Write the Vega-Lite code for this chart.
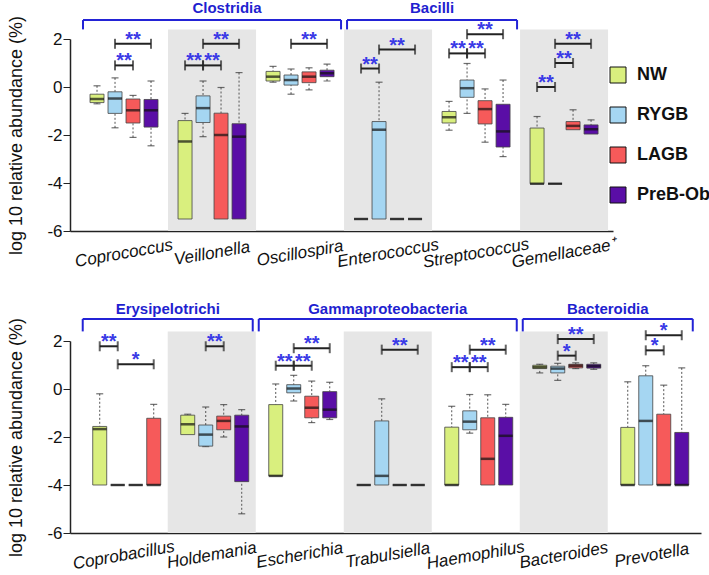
{
  "$schema": "https://vega.github.io/schema/vega-lite/v6.json",
  "padding": {"left": 7, "top": 1, "right": 0, "bottom": 0},
  "spacing": 30,
  "config": {"view": {"stroke": null}, "font": "Liberation Sans"},
  "datasets": {
    "shade1": [{"g": "Veillonella"}, {"g": "Enterococcus"}, {"g": "Gemellaceae⁺"}],
    "shade2": [{"g": "Holdemania"}, {"g": "Trabulsiella"}, {"g": "Bacteroides"}],
    "cls1": [{"c": "Clostridia", "g1": "Coprococcus", "g2": "Oscillospira"}, {"c": "Bacilli", "g1": "Enterococcus", "g2": "Streptococcus"}],
    "cls2": [{"c": "Erysipelotrichi", "g1": "Coprobacillus", "g2": "Holdemania"}, {"c": "Gammaproteobacteria", "g1": "Escherichia", "g2": "Haemophilus"}, {"c": "Bacteroidia", "g1": "Bacteroides", "g2": "Prevotella"}],
    "lab1": [{"c": "Clostridia", "g": "Veillonella", "k": "mid"}, {"c": "Bacilli", "g": "Enterococcus", "k": "edge"}],
    "lab2": [{"c": "Gammaproteobacteria", "g": "Trabulsiella", "k": "mid"}, {"c": "Erysipelotrichi", "g": "Coprobacillus", "k": "edge"}, {"c": "Bacteroidia", "g": "Bacteroides", "k": "edge"}],
    "box1": [
      {"g": "Coprococcus", "pos": "NW", "fill": "NW", "lo": -0.7, "q1": -0.65, "med": -0.5, "q3": -0.3, "hi": 0.05},
      {"g": "Coprococcus", "pos": "RYGB", "fill": "RYGB", "lo": -1.7, "q1": -1.1, "med": -0.48, "q3": -0.2, "hi": 0.38},
      {"g": "Coprococcus", "pos": "LAGB", "fill": "LAGB", "lo": -2.1, "q1": -1.5, "med": -0.97, "q3": -0.5, "hi": -0.35},
      {"g": "Coprococcus", "pos": "PreB-Ob", "fill": "PreB-Ob", "lo": -2.45, "q1": -1.67, "med": -0.97, "q3": -0.52, "hi": 0.25},
      {"g": "Veillonella", "pos": "NW", "fill": "NW", "q1": -5.5, "med": -2.27, "q3": -1.4, "hi": -1.1},
      {"g": "Veillonella", "pos": "RYGB", "fill": "RYGB", "lo": -2.07, "q1": -1.48, "med": -0.88, "q3": -0.37, "hi": 0.25},
      {"g": "Veillonella", "pos": "LAGB", "fill": "LAGB", "q1": -5.5, "med": -2.0, "q3": -1.09, "hi": -0.02},
      {"g": "Veillonella", "pos": "PreB-Ob", "fill": "PreB-Ob", "q1": -5.5, "med": -2.07, "q3": -1.53, "hi": 0.6},
      {"g": "Oscillospira", "pos": "NW", "fill": "NW", "lo": 0.2, "q1": 0.25, "med": 0.43, "q3": 0.65, "hi": 0.86},
      {"g": "Oscillospira", "pos": "RYGB", "fill": "RYGB", "lo": -0.3, "q1": 0.08, "med": 0.29, "q3": 0.5, "hi": 0.75},
      {"g": "Oscillospira", "pos": "LAGB", "fill": "LAGB", "lo": -0.12, "q1": 0.18, "med": 0.43, "q3": 0.63, "hi": 0.8},
      {"g": "Oscillospira", "pos": "PreB-Ob", "fill": "PreB-Ob", "lo": 0.25, "q1": 0.43, "med": 0.57, "q3": 0.7, "hi": 0.95},
      {"g": "Enterococcus", "pos": "NW", "fill": "NW", "q1": -5.5, "med": -5.5, "q3": -5.5},
      {"g": "Enterococcus", "pos": "RYGB", "fill": "RYGB", "q1": -5.5, "med": -1.78, "q3": -1.44, "hi": 0.2},
      {"g": "Enterococcus", "pos": "LAGB", "fill": "LAGB", "q1": -5.5, "med": -5.5, "q3": -5.5},
      {"g": "Enterococcus", "pos": "PreB-Ob", "fill": "PreB-Ob", "q1": -5.5, "med": -5.5, "q3": -5.5},
      {"g": "Streptococcus", "pos": "NW", "fill": "NW", "lo": -1.8, "q1": -1.5, "med": -1.26, "q3": -1.02, "hi": -0.6},
      {"g": "Streptococcus", "pos": "RYGB", "fill": "RYGB", "lo": -1.1, "q1": -0.43, "med": -0.05, "q3": 0.29, "hi": 0.98},
      {"g": "Streptococcus", "pos": "LAGB", "fill": "LAGB", "lo": -2.3, "q1": -1.54, "med": -0.92, "q3": -0.57, "hi": -0.08},
      {"g": "Streptococcus", "pos": "PreB-Ob", "fill": "PreB-Ob", "lo": -2.9, "q1": -2.5, "med": -1.85, "q3": -0.72, "hi": 0.29},
      {"g": "Gemellaceae⁺", "pos": "NW", "fill": "NW", "q1": -4.03, "med": -4.03, "q3": -1.71, "hi": -1.23},
      {"g": "Gemellaceae⁺", "pos": "RYGB", "fill": "RYGB", "q1": -4.03, "med": -4.03, "q3": -4.03},
      {"g": "Gemellaceae⁺", "pos": "LAGB", "fill": "LAGB", "q1": -1.78, "med": -1.62, "q3": -1.44, "hi": -0.95},
      {"g": "Gemellaceae⁺", "pos": "PreB-Ob", "fill": "PreB-Ob", "q1": -1.96, "med": -1.76, "q3": -1.58, "hi": -1.37}
    ],
    "box2": [
      {"g": "Coprobacillus", "pos": "NW", "fill": "NW", "q1": -4.0, "med": -1.67, "q3": -1.56, "hi": -0.2},
      {"g": "Coprobacillus", "pos": "RYGB", "fill": "RYGB", "q1": -4.0, "med": -4.0, "q3": -4.0},
      {"g": "Coprobacillus", "pos": "LAGB", "fill": "LAGB", "q1": -4.0, "med": -4.0, "q3": -4.0},
      {"g": "Coprobacillus", "pos": "PreB-Ob", "fill": "LAGB", "q1": -4.0, "med": -4.0, "q3": -1.22, "hi": -0.64},
      {"g": "Holdemania", "pos": "NW", "fill": "NW", "q1": -1.9, "med": -1.47, "q3": -1.09, "hi": -1.05},
      {"g": "Holdemania", "pos": "RYGB", "fill": "RYGB", "lo": -2.4, "q1": -2.38, "med": -1.9, "q3": -1.5, "hi": -0.75},
      {"g": "Holdemania", "pos": "LAGB", "fill": "LAGB", "lo": -2.0, "q1": -1.7, "med": -1.33, "q3": -1.13, "hi": -0.65},
      {"g": "Holdemania", "pos": "PreB-Ob", "fill": "PreB-Ob", "lo": -5.2, "q1": -3.86, "med": -1.56, "q3": -1.09, "hi": -0.86},
      {"g": "Escherichia", "pos": "NW", "fill": "NW", "q1": -3.62, "med": -3.62, "q3": -0.65, "hi": 0.21},
      {"g": "Escherichia", "pos": "RYGB", "fill": "RYGB", "lo": -0.5, "q1": -0.16, "med": 0.02, "q3": 0.18, "hi": 0.57},
      {"g": "Escherichia", "pos": "LAGB", "fill": "LAGB", "lo": -1.4, "q1": -1.2, "med": -0.78, "q3": -0.3, "hi": 0.33},
      {"g": "Escherichia", "pos": "PreB-Ob", "fill": "PreB-Ob", "lo": -1.27, "q1": -1.2, "med": -0.86, "q3": -0.11, "hi": 0.28},
      {"g": "Trabulsiella", "pos": "NW", "fill": "NW", "q1": -4.0, "med": -4.0, "q3": -4.0},
      {"g": "Trabulsiella", "pos": "RYGB", "fill": "RYGB", "q1": -4.0, "med": -3.62, "q3": -1.33, "hi": -0.41},
      {"g": "Trabulsiella", "pos": "LAGB", "fill": "LAGB", "q1": -4.0, "med": -4.0, "q3": -4.0},
      {"g": "Trabulsiella", "pos": "PreB-Ob", "fill": "PreB-Ob", "q1": -4.0, "med": -4.0, "q3": -4.0},
      {"g": "Haemophilus", "pos": "NW", "fill": "NW", "q1": -4.0, "med": -4.0, "q3": -1.59, "hi": -0.72},
      {"g": "Haemophilus", "pos": "RYGB", "fill": "RYGB", "lo": -1.84, "q1": -1.7, "med": -1.36, "q3": -0.91, "hi": -0.23},
      {"g": "Haemophilus", "pos": "LAGB", "fill": "LAGB", "q1": -4.0, "med": -2.91, "q3": -1.2, "hi": -0.24},
      {"g": "Haemophilus", "pos": "PreB-Ob", "fill": "PreB-Ob", "q1": -4.0, "med": -1.95, "q3": -1.18, "hi": -0.64},
      {"g": "Bacteroides", "pos": "NW", "fill": "NW", "lo": 0.67, "q1": 0.85, "med": 0.91, "q3": 0.99, "hi": 1.03},
      {"g": "Bacteroides", "pos": "RYGB", "fill": "RYGB", "lo": 0.36, "q1": 0.67, "med": 0.85, "q3": 0.95, "hi": 1.07},
      {"g": "Bacteroides", "pos": "LAGB", "fill": "LAGB", "lo": 0.85, "q1": 0.88, "med": 0.97, "q3": 1.03, "hi": 1.09},
      {"g": "Bacteroides", "pos": "PreB-Ob", "fill": "PreB-Ob", "lo": 0.82, "q1": 0.87, "med": 0.95, "q3": 1.03, "hi": 1.09},
      {"g": "Prevotella", "pos": "NW", "fill": "NW", "q1": -4.0, "med": -4.0, "q3": -1.6, "hi": 0.3},
      {"g": "Prevotella", "pos": "RYGB", "fill": "RYGB", "q1": -4.0, "med": -1.33, "q3": 0.55, "hi": 0.97},
      {"g": "Prevotella", "pos": "LAGB", "fill": "LAGB", "q1": -4.0, "med": -4.0, "q3": -1.05, "hi": 0.16},
      {"g": "Prevotella", "pos": "PreB-Ob", "fill": "PreB-Ob", "q1": -4.0, "med": -4.0, "q3": -1.81, "hi": 0.88}
    ],
    "sig1": [
      {"g": "Coprococcus", "t": "b", "v": 0.9, "s": "**"},
      {"g": "Coprococcus", "t": "c", "v": 1.8, "s": "**"},
      {"g": "Veillonella", "t": "a", "v": 0.9, "s": "**"},
      {"g": "Veillonella", "t": "b", "v": 0.9, "s": "**"},
      {"g": "Veillonella", "t": "c", "v": 1.8, "s": "**"},
      {"g": "Oscillospira", "t": "c", "v": 1.8, "s": "**"},
      {"g": "Enterococcus", "t": "a", "v": 0.77, "s": "**"},
      {"g": "Enterococcus", "t": "c", "v": 1.56, "s": "**"},
      {"g": "Streptococcus", "t": "a", "v": 1.4, "s": "**"},
      {"g": "Streptococcus", "t": "b", "v": 1.4, "s": "**"},
      {"g": "Streptococcus", "t": "c", "v": 2.2, "s": "**"},
      {"g": "Gemellaceae⁺", "t": "a", "v": 0.0, "s": "**"},
      {"g": "Gemellaceae⁺", "t": "b", "v": 1.0, "s": "**"},
      {"g": "Gemellaceae⁺", "t": "c", "v": 1.8, "s": "**"}
    ],
    "sig2": [
      {"g": "Coprobacillus", "t": "a", "v": 1.78, "s": "**"},
      {"g": "Coprobacillus", "t": "c", "v": 1.03, "s": "*"},
      {"g": "Holdemania", "t": "b", "v": 1.78, "s": "**"},
      {"g": "Escherichia", "t": "a", "v": 0.97, "s": "**"},
      {"g": "Escherichia", "t": "b", "v": 0.97, "s": "**"},
      {"g": "Escherichia", "t": "c", "v": 1.7, "s": "**"},
      {"g": "Trabulsiella", "t": "c", "v": 1.64, "s": "**"},
      {"g": "Haemophilus", "t": "a", "v": 0.91, "s": "**"},
      {"g": "Haemophilus", "t": "b", "v": 0.91, "s": "**"},
      {"g": "Haemophilus", "t": "c", "v": 1.64, "s": "**"},
      {"g": "Bacteroides", "t": "b", "v": 1.39, "s": "*"},
      {"g": "Bacteroides", "t": "c", "v": 2.08, "s": "**"},
      {"g": "Prevotella", "t": "b", "v": 1.61, "s": "*"},
      {"g": "Prevotella", "t": "c", "v": 2.24, "s": "*"}
    ]
  },
  "vconcat": [
    {
      "width": 543,
      "height": 192,
      "encoding": {
        "x": {"field": "g", "type": "nominal", "title": null,
          "scale": {"type": "band", "domain": ["Coprococcus", "Veillonella", "Oscillospira", "Enterococcus", "Streptococcus", "Gemellaceae⁺"], "paddingInner": 0, "paddingOuter": 0.085, "align": 0.67},
          "axis": {"title": null, "ticks": false, "domainColor": "#222", "domainWidth": 1.5, "labelAngle": -10, "labelAlign": "center", "labelBaseline": "middle", "labelPadding": 22, "labelFontSize": 17, "labelColor": "#111", "labelLimit": 300, "labelFontStyle": "italic"}},
        "y": {"type": "quantitative", "scale": {"domain": [-6, 2], "nice": false, "zero": false},
          "axis": {"title": "log 10 relative abundance (%)", "values": [-6, -4, -2, 0, 2], "grid": false, "tickSize": 7, "tickColor": "#222", "domainColor": "#222", "domainWidth": 1.5, "labelFontSize": 17, "labelColor": "#111", "labelPadding": 1, "labelExpr": "'' + datum.value", "titleFontSize": 18, "titleFontWeight": "normal", "titleColor": "#111", "titlePadding": 21}}
      },
      "layer": [
        {
          "data": {"name": "shade1"},
          "mark": {"type": "bar", "color": "#e6e6e6"},
          "encoding": {"y": {"datum": -6}, "y2": {"datum": 2.4}}
        },
        {
          "data": {"name": "cls1"},
          "mark": {"type": "rule", "color": "#2323d6", "strokeWidth": 2, "xOffset": -41, "x2Offset": 41},
          "encoding": {"x": {"field": "g1"}, "x2": {"field": "g2"}, "y": {"datum": 2.79}}
        },
        {
          "data": {"name": "cls1"},
          "mark": {"type": "rule", "color": "#2323d6", "strokeWidth": 2, "xOffset": -41},
          "encoding": {"x": {"field": "g1"}, "y": {"datum": 2.79}, "y2": {"datum": 2.4}}
        },
        {
          "data": {"name": "cls1"},
          "mark": {"type": "rule", "color": "#2323d6", "strokeWidth": 2, "xOffset": 41},
          "encoding": {"x": {"field": "g2"}, "y": {"datum": 2.79}, "y2": {"datum": 2.4}}
        },
        {
          "data": {"name": "lab1"},
          "transform": [{"filter": "datum.k == 'mid'"}],
          "mark": {"type": "text", "color": "#1f1fd0", "fontSize": 15, "fontWeight": "bold", "baseline": "middle", "xOffset": 15},
          "encoding": {"y": {"datum": 3.29}, "text": {"field": "c"}}
        },
        {
          "data": {"name": "lab1"},
          "transform": [{"filter": "datum.k == 'edge'"}],
          "mark": {"type": "text", "color": "#1f1fd0", "fontSize": 15, "fontWeight": "bold", "baseline": "middle", "xOffset": 44},
          "encoding": {"y": {"datum": 3.29}, "text": {"field": "c"}}
        },
        {
          "data": {"name": "box1"},
          "transform": [{"filter": "datum.pos == 'NW'"}],
          "layer": [
            {"transform": [{"filter": "datum.hi != null"}], "mark": {"type": "rule", "xOffset": -27, "color": "#555", "strokeDash": [2, 2]}, "encoding": {"y": {"field": "hi"}, "y2": {"field": "q3"}}},
            {"transform": [{"filter": "datum.lo != null"}], "mark": {"type": "rule", "xOffset": -27, "color": "#555", "strokeDash": [2, 2]}, "encoding": {"y": {"field": "lo"}, "y2": {"field": "q1"}}},
            {"transform": [{"filter": "datum.hi != null"}], "mark": {"type": "tick", "xOffset": -27, "size": 7, "thickness": 1.2, "color": "#333"}, "encoding": {"y": {"field": "hi"}}},
            {"transform": [{"filter": "datum.lo != null"}], "mark": {"type": "tick", "xOffset": -27, "size": 7, "thickness": 1.2, "color": "#333"}, "encoding": {"y": {"field": "lo"}}},
            {"mark": {"type": "bar", "xOffset": -27, "width": 14, "stroke": "#444", "strokeWidth": 0.8}, "encoding": {"y": {"field": "q3"}, "y2": {"field": "q1"},
              "color": {"field": "fill", "type": "nominal", "scale": {"domain": ["NW", "RYGB", "LAGB", "PreB-Ob"], "range": ["#d9ef7e", "#a5d6f2", "#f65a5a", "#5a0ea6"]},
                "legend": {"orient": "none", "legendX": 539, "legendY": 27, "title": null, "symbolType": "square", "symbolSize": 256, "symbolStrokeColor": "#111", "symbolStrokeWidth": 1, "symbolOpacity": 1, "labelFontSize": 18, "labelFontWeight": "bold", "labelColor": "#111", "labelOffset": 10, "rowPadding": 20}}}},
            {"mark": {"type": "tick", "xOffset": -27, "size": 14, "thickness": 2.5, "color": "#111"}, "encoding": {"y": {"field": "med"}}}
          ]
        },
        {
          "data": {"name": "box1"},
          "transform": [{"filter": "datum.pos == 'RYGB'"}],
          "layer": [
            {"transform": [{"filter": "datum.hi != null"}], "mark": {"type": "rule", "xOffset": -9, "color": "#555", "strokeDash": [2, 2]}, "encoding": {"y": {"field": "hi"}, "y2": {"field": "q3"}}},
            {"transform": [{"filter": "datum.lo != null"}], "mark": {"type": "rule", "xOffset": -9, "color": "#555", "strokeDash": [2, 2]}, "encoding": {"y": {"field": "lo"}, "y2": {"field": "q1"}}},
            {"transform": [{"filter": "datum.hi != null"}], "mark": {"type": "tick", "xOffset": -9, "size": 7, "thickness": 1.2, "color": "#333"}, "encoding": {"y": {"field": "hi"}}},
            {"transform": [{"filter": "datum.lo != null"}], "mark": {"type": "tick", "xOffset": -9, "size": 7, "thickness": 1.2, "color": "#333"}, "encoding": {"y": {"field": "lo"}}},
            {"mark": {"type": "bar", "xOffset": -9, "width": 14, "stroke": "#444", "strokeWidth": 0.8}, "encoding": {"y": {"field": "q3"}, "y2": {"field": "q1"},
              "color": {"field": "fill", "type": "nominal", "scale": {"domain": ["NW", "RYGB", "LAGB", "PreB-Ob"], "range": ["#d9ef7e", "#a5d6f2", "#f65a5a", "#5a0ea6"]},
                "legend": {"orient": "none", "legendX": 539, "legendY": 27, "title": null, "symbolType": "square", "symbolSize": 256, "symbolStrokeColor": "#111", "symbolStrokeWidth": 1, "symbolOpacity": 1, "labelFontSize": 18, "labelFontWeight": "bold", "labelColor": "#111", "labelOffset": 10, "rowPadding": 20}}}},
            {"mark": {"type": "tick", "xOffset": -9, "size": 14, "thickness": 2.5, "color": "#111"}, "encoding": {"y": {"field": "med"}}}
          ]
        },
        {
          "data": {"name": "box1"},
          "transform": [{"filter": "datum.pos == 'LAGB'"}],
          "layer": [
            {"transform": [{"filter": "datum.hi != null"}], "mark": {"type": "rule", "xOffset": 9, "color": "#555", "strokeDash": [2, 2]}, "encoding": {"y": {"field": "hi"}, "y2": {"field": "q3"}}},
            {"transform": [{"filter": "datum.lo != null"}], "mark": {"type": "rule", "xOffset": 9, "color": "#555", "strokeDash": [2, 2]}, "encoding": {"y": {"field": "lo"}, "y2": {"field": "q1"}}},
            {"transform": [{"filter": "datum.hi != null"}], "mark": {"type": "tick", "xOffset": 9, "size": 7, "thickness": 1.2, "color": "#333"}, "encoding": {"y": {"field": "hi"}}},
            {"transform": [{"filter": "datum.lo != null"}], "mark": {"type": "tick", "xOffset": 9, "size": 7, "thickness": 1.2, "color": "#333"}, "encoding": {"y": {"field": "lo"}}},
            {"mark": {"type": "bar", "xOffset": 9, "width": 14, "stroke": "#444", "strokeWidth": 0.8}, "encoding": {"y": {"field": "q3"}, "y2": {"field": "q1"},
              "color": {"field": "fill", "type": "nominal", "scale": {"domain": ["NW", "RYGB", "LAGB", "PreB-Ob"], "range": ["#d9ef7e", "#a5d6f2", "#f65a5a", "#5a0ea6"]},
                "legend": {"orient": "none", "legendX": 539, "legendY": 27, "title": null, "symbolType": "square", "symbolSize": 256, "symbolStrokeColor": "#111", "symbolStrokeWidth": 1, "symbolOpacity": 1, "labelFontSize": 18, "labelFontWeight": "bold", "labelColor": "#111", "labelOffset": 10, "rowPadding": 20}}}},
            {"mark": {"type": "tick", "xOffset": 9, "size": 14, "thickness": 2.5, "color": "#111"}, "encoding": {"y": {"field": "med"}}}
          ]
        },
        {
          "data": {"name": "box1"},
          "transform": [{"filter": "datum.pos == 'PreB-Ob'"}],
          "layer": [
            {"transform": [{"filter": "datum.hi != null"}], "mark": {"type": "rule", "xOffset": 27, "color": "#555", "strokeDash": [2, 2]}, "encoding": {"y": {"field": "hi"}, "y2": {"field": "q3"}}},
            {"transform": [{"filter": "datum.lo != null"}], "mark": {"type": "rule", "xOffset": 27, "color": "#555", "strokeDash": [2, 2]}, "encoding": {"y": {"field": "lo"}, "y2": {"field": "q1"}}},
            {"transform": [{"filter": "datum.hi != null"}], "mark": {"type": "tick", "xOffset": 27, "size": 7, "thickness": 1.2, "color": "#333"}, "encoding": {"y": {"field": "hi"}}},
            {"transform": [{"filter": "datum.lo != null"}], "mark": {"type": "tick", "xOffset": 27, "size": 7, "thickness": 1.2, "color": "#333"}, "encoding": {"y": {"field": "lo"}}},
            {"mark": {"type": "bar", "xOffset": 27, "width": 14, "stroke": "#444", "strokeWidth": 0.8}, "encoding": {"y": {"field": "q3"}, "y2": {"field": "q1"},
              "color": {"field": "fill", "type": "nominal", "scale": {"domain": ["NW", "RYGB", "LAGB", "PreB-Ob"], "range": ["#d9ef7e", "#a5d6f2", "#f65a5a", "#5a0ea6"]},
                "legend": {"orient": "none", "legendX": 539, "legendY": 27, "title": null, "symbolType": "square", "symbolSize": 256, "symbolStrokeColor": "#111", "symbolStrokeWidth": 1, "symbolOpacity": 1, "labelFontSize": 18, "labelFontWeight": "bold", "labelColor": "#111", "labelOffset": 10, "rowPadding": 20}}}},
            {"mark": {"type": "tick", "xOffset": 27, "size": 14, "thickness": 2.5, "color": "#111"}, "encoding": {"y": {"field": "med"}}}
          ]
        },
        {
          "data": {"name": "sig1"},
          "transform": [{"filter": "datum.t == 'a'"}],
          "layer": [
            {"mark": {"type": "rule", "xOffset": -27, "x2Offset": -9, "color": "#222", "strokeWidth": 2}, "encoding": {"x2": {"field": "g"}, "y": {"field": "v"}}},
            {"mark": {"type": "tick", "orient": "vertical", "xOffset": -27, "size": 10, "thickness": 2, "color": "#222"}, "encoding": {"y": {"field": "v"}}},
            {"mark": {"type": "tick", "orient": "vertical", "xOffset": -9, "size": 10, "thickness": 2, "color": "#222"}, "encoding": {"y": {"field": "v"}}},
            {"mark": {"type": "text", "xOffset": -18, "color": "#3a3ae6", "fontSize": 20, "fontWeight": "bold", "baseline": "alphabetic", "dy": 2}, "encoding": {"y": {"field": "v"}, "text": {"field": "s"}}}
          ]
        },
        {
          "data": {"name": "sig1"},
          "transform": [{"filter": "datum.t == 'b'"}],
          "layer": [
            {"mark": {"type": "rule", "xOffset": -9, "x2Offset": 9, "color": "#222", "strokeWidth": 2}, "encoding": {"x2": {"field": "g"}, "y": {"field": "v"}}},
            {"mark": {"type": "tick", "orient": "vertical", "xOffset": -9, "size": 10, "thickness": 2, "color": "#222"}, "encoding": {"y": {"field": "v"}}},
            {"mark": {"type": "tick", "orient": "vertical", "xOffset": 9, "size": 10, "thickness": 2, "color": "#222"}, "encoding": {"y": {"field": "v"}}},
            {"mark": {"type": "text", "xOffset": 0, "color": "#3a3ae6", "fontSize": 20, "fontWeight": "bold", "baseline": "alphabetic", "dy": 2}, "encoding": {"y": {"field": "v"}, "text": {"field": "s"}}}
          ]
        },
        {
          "data": {"name": "sig1"},
          "transform": [{"filter": "datum.t == 'c'"}],
          "layer": [
            {"mark": {"type": "rule", "xOffset": -9, "x2Offset": 27, "color": "#222", "strokeWidth": 2}, "encoding": {"x2": {"field": "g"}, "y": {"field": "v"}}},
            {"mark": {"type": "tick", "orient": "vertical", "xOffset": -9, "size": 10, "thickness": 2, "color": "#222"}, "encoding": {"y": {"field": "v"}}},
            {"mark": {"type": "tick", "orient": "vertical", "xOffset": 27, "size": 10, "thickness": 2, "color": "#222"}, "encoding": {"y": {"field": "v"}}},
            {"mark": {"type": "text", "xOffset": 9, "color": "#3a3ae6", "fontSize": 20, "fontWeight": "bold", "baseline": "alphabetic", "dy": 2}, "encoding": {"y": {"field": "v"}, "text": {"field": "s"}}}
          ]
        }
      ]
    },
    {
      "width": 631,
      "height": 192,
      "encoding": {
        "x": {"field": "g", "type": "nominal", "title": null,
          "scale": {"type": "band", "domain": ["Coprobacillus", "Holdemania", "Escherichia", "Trabulsiella", "Haemophilus", "Bacteroides", "Prevotella"], "paddingInner": 0, "paddingOuter": 0.085, "align": 0.65},
          "axis": {"title": null, "ticks": false, "domainColor": "#222", "domainWidth": 1.5, "labelAngle": -10, "labelAlign": "center", "labelBaseline": "middle", "labelPadding": 22, "labelFontSize": 17, "labelColor": "#111", "labelLimit": 300, "labelFontStyle": "italic"}},
        "y": {"type": "quantitative", "scale": {"domain": [-6, 2], "nice": false, "zero": false},
          "axis": {"title": "log 10 relative abundance (%)", "values": [-6, -4, -2, 0, 2], "grid": false, "tickSize": 7, "tickColor": "#222", "domainColor": "#222", "domainWidth": 1.5, "labelFontSize": 17, "labelColor": "#111", "labelPadding": 1, "labelExpr": "'' + datum.value", "titleFontSize": 18, "titleFontWeight": "normal", "titleColor": "#111", "titlePadding": 21}}
      },
      "layer": [
        {
          "data": {"name": "shade2"},
          "mark": {"type": "bar", "color": "#e6e6e6"},
          "encoding": {"y": {"datum": -6}, "y2": {"datum": 2.4}}
        },
        {
          "data": {"name": "cls2"},
          "mark": {"type": "rule", "color": "#2323d6", "strokeWidth": 2, "xOffset": -41, "x2Offset": 41},
          "encoding": {"x": {"field": "g1"}, "x2": {"field": "g2"}, "y": {"datum": 2.92}}
        },
        {
          "data": {"name": "cls2"},
          "mark": {"type": "rule", "color": "#2323d6", "strokeWidth": 2, "xOffset": -41},
          "encoding": {"x": {"field": "g1"}, "y": {"datum": 2.92}, "y2": {"datum": 2.4}}
        },
        {
          "data": {"name": "cls2"},
          "mark": {"type": "rule", "color": "#2323d6", "strokeWidth": 2, "xOffset": 41},
          "encoding": {"x": {"field": "g2"}, "y": {"datum": 2.92}, "y2": {"datum": 2.4}}
        },
        {
          "data": {"name": "lab2"},
          "transform": [{"filter": "datum.k == 'mid'"}],
          "mark": {"type": "text", "color": "#1f1fd0", "fontSize": 15, "fontWeight": "bold", "baseline": "middle"},
          "encoding": {"y": {"datum": 3.35}, "text": {"field": "c"}}
        },
        {
          "data": {"name": "lab2"},
          "transform": [{"filter": "datum.k == 'edge'"}],
          "mark": {"type": "text", "color": "#1f1fd0", "fontSize": 15, "fontWeight": "bold", "baseline": "middle", "xOffset": 44},
          "encoding": {"y": {"datum": 3.35}, "text": {"field": "c"}}
        },
        {
          "data": {"name": "box2"},
          "transform": [{"filter": "datum.pos == 'NW'"}],
          "layer": [
            {"transform": [{"filter": "datum.hi != null"}], "mark": {"type": "rule", "xOffset": -24, "color": "#555", "strokeDash": [2, 2]}, "encoding": {"y": {"field": "hi"}, "y2": {"field": "q3"}}},
            {"transform": [{"filter": "datum.lo != null"}], "mark": {"type": "rule", "xOffset": -24, "color": "#555", "strokeDash": [2, 2]}, "encoding": {"y": {"field": "lo"}, "y2": {"field": "q1"}}},
            {"transform": [{"filter": "datum.hi != null"}], "mark": {"type": "tick", "xOffset": -24, "size": 7, "thickness": 1.2, "color": "#333"}, "encoding": {"y": {"field": "hi"}}},
            {"transform": [{"filter": "datum.lo != null"}], "mark": {"type": "tick", "xOffset": -24, "size": 7, "thickness": 1.2, "color": "#333"}, "encoding": {"y": {"field": "lo"}}},
            {"mark": {"type": "bar", "xOffset": -24, "width": 14, "stroke": "#444", "strokeWidth": 0.8}, "encoding": {"y": {"field": "q3"}, "y2": {"field": "q1"},
              "color": {"field": "fill", "type": "nominal", "scale": {"domain": ["NW", "RYGB", "LAGB", "PreB-Ob"], "range": ["#d9ef7e", "#a5d6f2", "#f65a5a", "#5a0ea6"]}, "legend": null}}},
            {"mark": {"type": "tick", "xOffset": -24, "size": 14, "thickness": 2.5, "color": "#111"}, "encoding": {"y": {"field": "med"}}}
          ]
        },
        {
          "data": {"name": "box2"},
          "transform": [{"filter": "datum.pos == 'RYGB'"}],
          "layer": [
            {"transform": [{"filter": "datum.hi != null"}], "mark": {"type": "rule", "xOffset": -6, "color": "#555", "strokeDash": [2, 2]}, "encoding": {"y": {"field": "hi"}, "y2": {"field": "q3"}}},
            {"transform": [{"filter": "datum.lo != null"}], "mark": {"type": "rule", "xOffset": -6, "color": "#555", "strokeDash": [2, 2]}, "encoding": {"y": {"field": "lo"}, "y2": {"field": "q1"}}},
            {"transform": [{"filter": "datum.hi != null"}], "mark": {"type": "tick", "xOffset": -6, "size": 7, "thickness": 1.2, "color": "#333"}, "encoding": {"y": {"field": "hi"}}},
            {"transform": [{"filter": "datum.lo != null"}], "mark": {"type": "tick", "xOffset": -6, "size": 7, "thickness": 1.2, "color": "#333"}, "encoding": {"y": {"field": "lo"}}},
            {"mark": {"type": "bar", "xOffset": -6, "width": 14, "stroke": "#444", "strokeWidth": 0.8}, "encoding": {"y": {"field": "q3"}, "y2": {"field": "q1"},
              "color": {"field": "fill", "type": "nominal", "scale": {"domain": ["NW", "RYGB", "LAGB", "PreB-Ob"], "range": ["#d9ef7e", "#a5d6f2", "#f65a5a", "#5a0ea6"]}, "legend": null}}},
            {"mark": {"type": "tick", "xOffset": -6, "size": 14, "thickness": 2.5, "color": "#111"}, "encoding": {"y": {"field": "med"}}}
          ]
        },
        {
          "data": {"name": "box2"},
          "transform": [{"filter": "datum.pos == 'LAGB'"}],
          "layer": [
            {"transform": [{"filter": "datum.hi != null"}], "mark": {"type": "rule", "xOffset": 12, "color": "#555", "strokeDash": [2, 2]}, "encoding": {"y": {"field": "hi"}, "y2": {"field": "q3"}}},
            {"transform": [{"filter": "datum.lo != null"}], "mark": {"type": "rule", "xOffset": 12, "color": "#555", "strokeDash": [2, 2]}, "encoding": {"y": {"field": "lo"}, "y2": {"field": "q1"}}},
            {"transform": [{"filter": "datum.hi != null"}], "mark": {"type": "tick", "xOffset": 12, "size": 7, "thickness": 1.2, "color": "#333"}, "encoding": {"y": {"field": "hi"}}},
            {"transform": [{"filter": "datum.lo != null"}], "mark": {"type": "tick", "xOffset": 12, "size": 7, "thickness": 1.2, "color": "#333"}, "encoding": {"y": {"field": "lo"}}},
            {"mark": {"type": "bar", "xOffset": 12, "width": 14, "stroke": "#444", "strokeWidth": 0.8}, "encoding": {"y": {"field": "q3"}, "y2": {"field": "q1"},
              "color": {"field": "fill", "type": "nominal", "scale": {"domain": ["NW", "RYGB", "LAGB", "PreB-Ob"], "range": ["#d9ef7e", "#a5d6f2", "#f65a5a", "#5a0ea6"]}, "legend": null}}},
            {"mark": {"type": "tick", "xOffset": 12, "size": 14, "thickness": 2.5, "color": "#111"}, "encoding": {"y": {"field": "med"}}}
          ]
        },
        {
          "data": {"name": "box2"},
          "transform": [{"filter": "datum.pos == 'PreB-Ob'"}],
          "layer": [
            {"transform": [{"filter": "datum.hi != null"}], "mark": {"type": "rule", "xOffset": 30, "color": "#555", "strokeDash": [2, 2]}, "encoding": {"y": {"field": "hi"}, "y2": {"field": "q3"}}},
            {"transform": [{"filter": "datum.lo != null"}], "mark": {"type": "rule", "xOffset": 30, "color": "#555", "strokeDash": [2, 2]}, "encoding": {"y": {"field": "lo"}, "y2": {"field": "q1"}}},
            {"transform": [{"filter": "datum.hi != null"}], "mark": {"type": "tick", "xOffset": 30, "size": 7, "thickness": 1.2, "color": "#333"}, "encoding": {"y": {"field": "hi"}}},
            {"transform": [{"filter": "datum.lo != null"}], "mark": {"type": "tick", "xOffset": 30, "size": 7, "thickness": 1.2, "color": "#333"}, "encoding": {"y": {"field": "lo"}}},
            {"mark": {"type": "bar", "xOffset": 30, "width": 14, "stroke": "#444", "strokeWidth": 0.8}, "encoding": {"y": {"field": "q3"}, "y2": {"field": "q1"},
              "color": {"field": "fill", "type": "nominal", "scale": {"domain": ["NW", "RYGB", "LAGB", "PreB-Ob"], "range": ["#d9ef7e", "#a5d6f2", "#f65a5a", "#5a0ea6"]}, "legend": null}}},
            {"mark": {"type": "tick", "xOffset": 30, "size": 14, "thickness": 2.5, "color": "#111"}, "encoding": {"y": {"field": "med"}}}
          ]
        },
        {
          "data": {"name": "sig2"},
          "transform": [{"filter": "datum.t == 'a'"}],
          "layer": [
            {"mark": {"type": "rule", "xOffset": -24, "x2Offset": -6, "color": "#222", "strokeWidth": 2}, "encoding": {"x2": {"field": "g"}, "y": {"field": "v"}}},
            {"mark": {"type": "tick", "orient": "vertical", "xOffset": -24, "size": 10, "thickness": 2, "color": "#222"}, "encoding": {"y": {"field": "v"}}},
            {"mark": {"type": "tick", "orient": "vertical", "xOffset": -6, "size": 10, "thickness": 2, "color": "#222"}, "encoding": {"y": {"field": "v"}}},
            {"mark": {"type": "text", "xOffset": -15, "color": "#3a3ae6", "fontSize": 20, "fontWeight": "bold", "baseline": "alphabetic", "dy": 2}, "encoding": {"y": {"field": "v"}, "text": {"field": "s"}}}
          ]
        },
        {
          "data": {"name": "sig2"},
          "transform": [{"filter": "datum.t == 'b'"}],
          "layer": [
            {"mark": {"type": "rule", "xOffset": -6, "x2Offset": 12, "color": "#222", "strokeWidth": 2}, "encoding": {"x2": {"field": "g"}, "y": {"field": "v"}}},
            {"mark": {"type": "tick", "orient": "vertical", "xOffset": -6, "size": 10, "thickness": 2, "color": "#222"}, "encoding": {"y": {"field": "v"}}},
            {"mark": {"type": "tick", "orient": "vertical", "xOffset": 12, "size": 10, "thickness": 2, "color": "#222"}, "encoding": {"y": {"field": "v"}}},
            {"mark": {"type": "text", "xOffset": 3, "color": "#3a3ae6", "fontSize": 20, "fontWeight": "bold", "baseline": "alphabetic", "dy": 2}, "encoding": {"y": {"field": "v"}, "text": {"field": "s"}}}
          ]
        },
        {
          "data": {"name": "sig2"},
          "transform": [{"filter": "datum.t == 'c'"}],
          "layer": [
            {"mark": {"type": "rule", "xOffset": -6, "x2Offset": 30, "color": "#222", "strokeWidth": 2}, "encoding": {"x2": {"field": "g"}, "y": {"field": "v"}}},
            {"mark": {"type": "tick", "orient": "vertical", "xOffset": -6, "size": 10, "thickness": 2, "color": "#222"}, "encoding": {"y": {"field": "v"}}},
            {"mark": {"type": "tick", "orient": "vertical", "xOffset": 30, "size": 10, "thickness": 2, "color": "#222"}, "encoding": {"y": {"field": "v"}}},
            {"mark": {"type": "text", "xOffset": 12, "color": "#3a3ae6", "fontSize": 20, "fontWeight": "bold", "baseline": "alphabetic", "dy": 2}, "encoding": {"y": {"field": "v"}, "text": {"field": "s"}}}
          ]
        }
      ]
    }
  ]
}
